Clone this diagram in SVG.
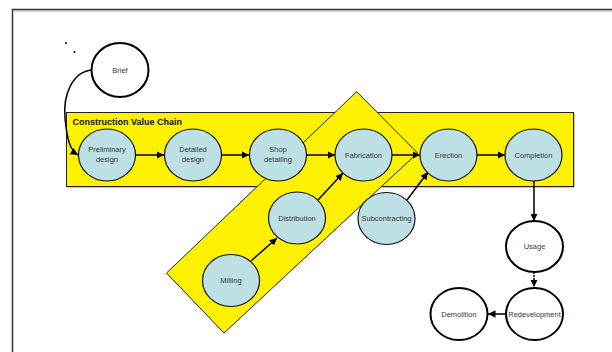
<svg xmlns="http://www.w3.org/2000/svg" width="612" height="352" viewBox="0 0 612 352">
<style>
.lbl{font-family:"Liberation Sans",Arial,sans-serif;font-size:7.5px;fill:#383838;text-anchor:middle}
.blue{fill:#BCE0E4;stroke:#111;stroke-width:1.2}
.white{fill:#fff;stroke:#000;stroke-width:2}
.con{stroke:#000;stroke-width:1.5;fill:none;marker-end:url(#ah)}
.band{fill:#FFF200;stroke:#222;stroke-width:1}
</style>
<defs>
<marker id="ah" viewBox="0 0 10 10" refX="10" refY="5" markerWidth="5" markerHeight="5" orient="auto" markerUnits="strokeWidth">
<path d="M0,0 L10,5 L0,10 z" fill="#000"/>
</marker>
</defs>
<rect x="0" y="0" width="612" height="352" fill="#fff"/>
<g id="frame">
<path d="M12.5,352 V9.5 H612" fill="none" stroke="#333" stroke-width="1.5"/>
<path d="M14,11 H612" stroke="#999" stroke-width="0.8"/>
</g>
<g id="dots">
<circle cx="66" cy="43" r="1" fill="#000"/>
<circle cx="74.5" cy="52" r="1" fill="#000"/>
</g>
<g id="value-chain-box">
<rect x="67.5" y="113.5" width="507" height="74" fill="#888"/>
<rect x="66.5" y="112.5" width="507" height="74" class="band"/>
<text x="72.5" y="125" font-family="Liberation Sans,Arial,sans-serif" font-size="9" font-weight="bold" fill="#111">Construction Value Chain</text>
</g>
<g id="supply-band">
<polygon points="356.7,91.7 417.5,153 224,333 166.5,273" class="band"/>
</g>
<g id="connectors">
<path class="con" d="M92,70 C72,72 63,95 65,118 C67,140 70,150 78,155"/>
<line class="con" x1="136" y1="155" x2="164" y2="155"/>
<line class="con" x1="222" y1="155" x2="249" y2="155"/>
<line class="con" x1="307" y1="155" x2="335" y2="155"/>
<line class="con" x1="392" y1="155" x2="420" y2="155"/>
<line class="con" x1="477" y1="155" x2="505" y2="155"/>
<line class="con" x1="251" y1="261" x2="277" y2="238"/>
<line class="con" x1="318" y1="200" x2="343" y2="173"/>
<line class="con" x1="407" y1="200" x2="428" y2="172"/>
<line class="con" x1="534" y1="181" x2="534" y2="221"/>
<line class="con" x1="534" y1="272" x2="534" y2="287" stroke-dasharray="2,1"/>
<line class="con" x1="506" y1="314" x2="488" y2="314"/>
</g>
<g id="brief"><ellipse cx="120" cy="70" rx="28.5" ry="27" class="white"/><text class="lbl" x="120" y="72.5">Brief</text></g>
<g id="preliminary-design"><ellipse cx="107" cy="155" rx="28.5" ry="26" class="blue"/><text class="lbl" x="107" y="152">Preliminary</text><text class="lbl" x="107" y="161.5">design</text></g>
<g id="detailed-design"><ellipse cx="193" cy="155" rx="28.5" ry="26" class="blue"/><text class="lbl" x="193" y="152">Detailed</text><text class="lbl" x="193" y="161.5">design</text></g>
<g id="shop-detailing"><ellipse cx="278" cy="155" rx="28.5" ry="26" class="blue"/><text class="lbl" x="278" y="152">Shop</text><text class="lbl" x="278" y="161.5">detailing</text></g>
<g id="fabrication"><ellipse cx="363.5" cy="155" rx="28.5" ry="26" class="blue"/><text class="lbl" x="363.5" y="157.5">Fabrication</text></g>
<g id="erection"><ellipse cx="448.5" cy="155" rx="28.5" ry="26" class="blue"/><text class="lbl" x="448.5" y="157.5">Erection</text></g>
<g id="completion"><ellipse cx="533.5" cy="155" rx="28.5" ry="26" class="blue"/><text class="lbl" x="533.5" y="157.5">Completion</text></g>
<g id="distribution"><ellipse cx="297" cy="218" rx="28.5" ry="26" class="blue"/><text class="lbl" x="297" y="220.5">Distribution</text></g>
<g id="milling"><ellipse cx="231" cy="280.5" rx="28.5" ry="26" class="blue"/><text class="lbl" x="231" y="283">Milling</text></g>
<g id="subcontracting"><ellipse cx="386.5" cy="218.5" rx="28.5" ry="26" class="blue"/><text class="lbl" x="386.5" y="221">Subcontracting</text></g>
<g id="usage"><ellipse cx="534.5" cy="246.5" rx="28.5" ry="25.5" class="white"/><text class="lbl" x="534.5" y="249">Usage</text></g>
<g id="redevelopment"><ellipse cx="534.5" cy="314" rx="28.5" ry="26" class="white"/><text class="lbl" x="534.5" y="316.5">Redevelopment</text></g>
<g id="demolition"><ellipse cx="459" cy="314" rx="28.5" ry="26" class="white"/><text class="lbl" x="459" y="316.5">Demolition</text></g>
</svg>
